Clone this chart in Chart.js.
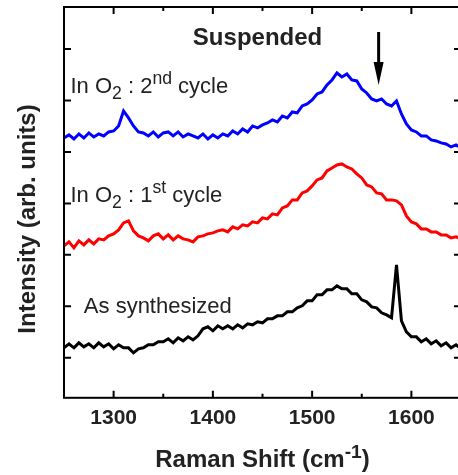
<!DOCTYPE html>
<html>
<head>
<meta charset="utf-8">
<script src="https://cdn.jsdelivr.net/npm/chart.js@4.4.1/dist/chart.umd.min.js"></script>
<style>
  html, body { margin: 0; padding: 0; background: #fff; overflow: hidden; }
  canvas { display: block; }
</style>
</head>
<body>
<canvas id="myChart" width="463" height="475"></canvas>
<script>
// Raman shift grid, cm^-1 (sampled every 5)
const shift = Array.from({ length: 81 }, (_, i) => 1250 + 5 * i);

// intensities, arb. units (offset stacked like the figure)
const cycle2 = [
    260, 263, 259, 264, 260, 265, 261, 264, 262, 266,
    267, 272, 287, 280, 272, 266, 265, 262, 266, 261,
    265, 266, 262, 266, 261, 264, 262, 260, 264, 259,
    263, 260, 264, 262, 267, 264, 269, 266, 272, 270,
    273, 275, 278, 276, 282, 280, 286, 285, 292, 294,
    298, 304, 306, 313, 318, 325, 321, 324, 318, 317,
    309, 305, 299, 297, 299, 294, 292, 297, 284, 274,
    268, 266, 262, 262, 258, 257, 255, 254, 251, 253,
    250
];
const cycle1 = [
    152, 156, 150, 157, 153, 158, 154, 159, 158, 162,
    164, 168, 175, 177, 167, 162, 160, 157, 162, 164,
    159, 163, 158, 162, 159, 158, 156, 161, 162, 164,
    165, 167, 168, 166, 171, 169, 173, 172, 176, 175,
    180, 179, 184, 183, 190, 192, 198, 198, 205, 207,
    212, 218, 220, 227, 230, 233, 234, 231, 229, 224,
    220, 213, 211, 205, 204, 198, 198, 197, 193, 182,
    176, 174, 169, 169, 166, 166, 163, 163, 160, 161,
    159
];
const asSynth = [
    50, 54, 50, 55, 51, 54, 50, 55, 51, 54,
    49, 53, 50, 50, 45, 49, 50, 53, 53, 56,
    56, 59, 55, 60, 57, 61, 58, 62, 69, 71,
    67, 72, 69, 72, 69, 73, 70, 74, 73, 76,
    75, 79, 79, 82, 82, 86, 86, 90, 92, 97,
    97, 103, 103, 108, 108, 112, 109, 109, 104, 104,
    98, 96, 91, 90, 85, 83, 80, 133, 77, 66,
    61, 61, 56, 59, 54, 57, 52, 55, 50, 53,
    49
];

const xLabels = [1300, 1400, 1500, 1600];
const yTicks = [40, 91.5, 143, 194.5, 246, 297.5, 349];

// arrow marking the shoulder near 1567 cm^-1
const arrowX = 1567;
const arrowFrom = 366;
const arrowTo = 313;

const FONT = '"Liberation Sans", Arial, Helvetica, sans-serif';
const TEXT = '#222';

const notes = [
    { x: 1256.5, y: 305, parts: [['In O'], ['2', 'sub'], [' : 2'], ['nd', 'sup'], [' cycle']] },
    { x: 1256.5, y: 196, parts: [['In O'], ['2', 'sub'], [' : 1'], ['st', 'sup'], [' cycle']] },
    { x: 1270, y: 85, parts: [['As synthesized']] }
];

function drawRich(ctx, x, y, parts, size, weight) {
    let cx = x;
    parts.forEach(p => {
        let s = size, dy = 0;
        if (p[1] === 'sub') { s = size * 0.8; dy = 6; }
        if (p[1] === 'sup') { s = size * 0.8; dy = -9; }
        ctx.font = weight + ' ' + s + 'px ' + FONT;
        ctx.fillText(p[0], cx, y + dy);
        cx += ctx.measureText(p[0]).width;
    });
    return cx - x;
}

function richWidth(ctx, parts, size, weight) {
    let w = 0;
    parts.forEach(p => {
        const s = p[1] ? size * 0.8 : size;
        ctx.font = weight + ' ' + s + 'px ' + FONT;
        w += ctx.measureText(p[0]).width;
    });
    return w;
}

const decorations = {
    id: 'decorations',
    afterDatasetsDraw(chart) {
        const { ctx, chartArea: a, scales: { x, y } } = chart;
        ctx.save();
        ctx.strokeStyle = '#000';
        ctx.lineWidth = 2;
        ctx.strokeRect(a.left, a.top, a.right - a.left, a.bottom - a.top);

        // inward tick marks
        ctx.beginPath();
        x.ticks.forEach(t => {
            if (t.value <= x.min || t.value >= x.max) return;
            const px = x.getPixelForValue(t.value);
            const len = xLabels.includes(t.value) ? 7 : 4;
            ctx.moveTo(px, a.bottom); ctx.lineTo(px, a.bottom - len);
            ctx.moveTo(px, a.top); ctx.lineTo(px, a.top + len);
        });
        yTicks.forEach(v => {
            const py = y.getPixelForValue(v);
            ctx.moveTo(a.left, py); ctx.lineTo(a.left + 7, py);
            ctx.moveTo(a.right, py); ctx.lineTo(a.right - 7, py);
        });
        ctx.stroke();

        // arrow
        const ax = x.getPixelForValue(arrowX);
        const ay0 = y.getPixelForValue(arrowFrom);
        const ay1 = y.getPixelForValue(arrowTo);
        ctx.fillStyle = '#000';
        ctx.lineWidth = 3;
        ctx.beginPath();
        ctx.moveTo(ax, ay0); ctx.lineTo(ax, ay1 - 20);
        ctx.stroke();
        ctx.beginPath();
        ctx.moveTo(ax - 5, ay1 - 23);
        ctx.lineTo(ax + 5, ay1 - 23);
        ctx.lineTo(ax, ay1);
        ctx.closePath();
        ctx.fill();

        // curve labels
        ctx.fillStyle = TEXT;
        ctx.textBaseline = 'alphabetic';
        ctx.textAlign = 'left';
        notes.forEach(n => {
            drawRich(ctx, x.getPixelForValue(n.x), y.getPixelForValue(n.y), n.parts, 22, 'normal');
        });

        ctx.textAlign = 'center';
        ctx.font = 'bold 24px ' + FONT;
        ctx.fillText('Suspended', x.getPixelForValue(1445), y.getPixelForValue(353));

        // axis titles
        ctx.textAlign = 'left';
        const xt = [['Raman Shift (cm'], ['-1', 'sup'], [')']];
        const w = richWidth(ctx, xt, 24, 'bold');
        drawRich(ctx, (a.left + a.right) / 2 - w / 2, 467, xt, 24, 'bold');

        ctx.translate(35, 219);
        ctx.rotate(-Math.PI / 2);
        ctx.textAlign = 'center';
        ctx.font = 'bold 24px ' + FONT;
        ctx.fillText('Intensity (arb. units)', 0, 0);
        ctx.restore();
    }
};

function series(label, data, color) {
    return {
        label: label,
        data: data,
        borderColor: color,
        borderWidth: 3,
        pointRadius: 0,
        tension: 0,
        fill: false
    };
}

const ctx = document.getElementById('myChart').getContext('2d');
const chart = new Chart(ctx, {
    type: 'line',
    data: {
        labels: shift,
        datasets: [
            series('In O2 : 2nd cycle', cycle2, '#0000ff'),
            series('In O2 : 1st cycle', cycle1, '#ff0000'),
            series('As synthesized', asSynth, '#000000')
        ]
    },
    options: {
        responsive: false,
        animation: false,
        devicePixelRatio: 1,
        layout: { padding: { left: 64, top: 7, right: 2, bottom: 44 } },
        plugins: {
            legend: { display: false },
            tooltip: { enabled: false }
        },
        scales: {
            x: {
                type: 'linear',
                min: 1250,
                max: 1650,
                grid: { display: false },
                border: { display: false },
                ticks: {
                    stepSize: 50,
                    autoSkip: false,
                    maxRotation: 0,
                    padding: 0,
                    color: TEXT,
                    font: { family: FONT, size: 21, weight: 'bold' },
                    callback: v => xLabels.includes(v) ? String(v) : ''
                }
            },
            y: {
                display: false,
                min: 0,
                max: 391
            }
        }
    },
    plugins: [decorations]
});
</script>
</body>
</html>
